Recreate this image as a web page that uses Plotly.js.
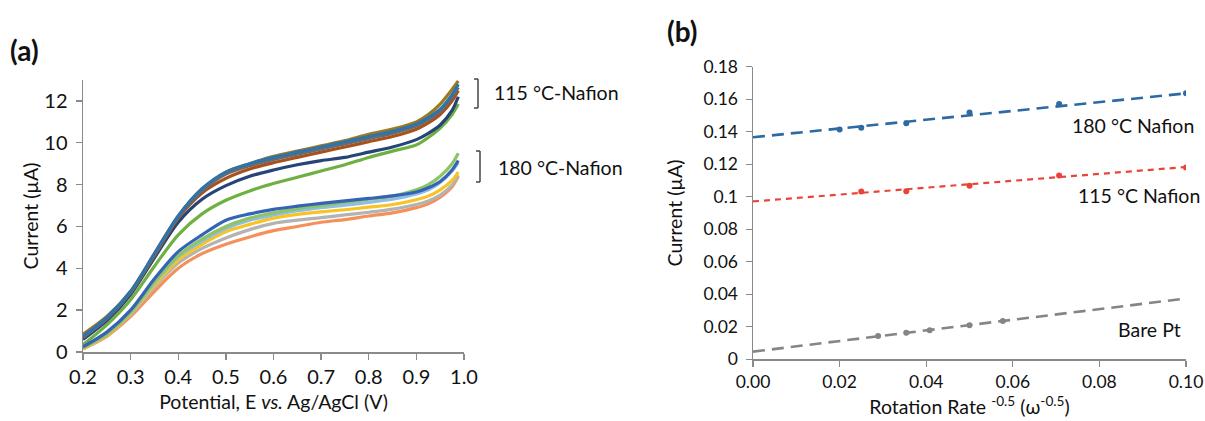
<!DOCTYPE html>
<html><head><meta charset="utf-8">
<script src="https://cdn.plot.ly/plotly-3.0.1.min.js"></script>
<style>html,body{margin:0;padding:0;background:#fff}#chart{width:1205px;height:421px}</style>
</head><body><div id="chart"></div>
<script>
// ---- Panel (a): linear sweep voltammograms ----
const potential = [0.2,0.25,0.3,0.35,0.4,0.45,0.5,0.55,0.6,0.65,0.7,0.75,0.8,0.85,0.9,0.925,0.95,0.975,0.988];
// 115 °C-Nafion group
const n115_gold  = [0.85,1.7,2.9,4.7,6.5,7.8,8.6,9.0,9.35,9.6,9.85,10.1,10.4,10.65,11.0,11.35,11.85,12.55,12.95];
const n115_blue  = [0.75,1.65,2.9,4.7,6.5,7.8,8.6,9.0,9.3,9.55,9.8,10.05,10.3,10.55,10.9,11.2,11.6,12.3,12.8];
const n115_gray  = [0.7,1.6,2.85,4.65,6.45,7.7,8.5,8.9,9.2,9.45,9.7,9.95,10.2,10.45,10.8,11.1,11.5,12.2,12.65];
const n115_brown = [0.7,1.6,2.85,4.6,6.4,7.6,8.3,8.75,9.05,9.3,9.55,9.8,10.05,10.3,10.65,10.95,11.35,12.0,12.5];
const n115_navy  = [0.6,1.5,2.75,4.5,6.2,7.3,7.95,8.4,8.7,8.95,9.15,9.3,9.55,9.8,10.15,10.45,10.85,11.55,12.2];
const n115_green = [0.35,1.3,2.5,4.1,5.6,6.6,7.25,7.7,8.05,8.35,8.65,8.95,9.3,9.6,9.9,10.25,10.7,11.35,11.85];
// 180 °C-Nafion group
const n180_green  = [0.2,0.85,1.9,3.35,4.6,5.4,6.0,6.4,6.65,6.85,7.0,7.15,7.3,7.45,7.75,8.0,8.4,9.0,9.5];
const n180_blue   = [0.25,0.95,2.0,3.5,4.8,5.6,6.3,6.6,6.82,6.97,7.1,7.22,7.34,7.46,7.65,7.85,8.15,8.7,9.15];
const n180_lblue  = [0.2,0.85,1.9,3.3,4.55,5.3,5.9,6.3,6.55,6.75,6.9,7.02,7.15,7.3,7.55,7.75,8.1,8.65,9.05];
const n180_yellow = [0.15,0.8,1.85,3.2,4.4,5.15,5.75,6.1,6.4,6.58,6.7,6.8,6.92,7.05,7.28,7.45,7.75,8.2,8.6];
const n180_gray   = [0.15,0.8,1.8,3.1,4.25,4.95,5.45,5.85,6.15,6.3,6.42,6.55,6.68,6.83,7.05,7.22,7.5,7.98,8.45];
const n180_orange = [0.15,0.75,1.7,2.9,4.0,4.7,5.15,5.5,5.8,6.0,6.2,6.33,6.5,6.65,6.9,7.08,7.4,7.9,8.4];

const curvesA = [
  {y:n115_green, c:'#6fb042'}, {y:n115_navy, c:'#264478'}, {y:n115_brown, c:'#a9501c'},
  {y:n115_gray, c:'#6b6b6b'}, {y:n115_gold, c:'#9c7a1e'}, {y:n115_blue, c:'#2e73ad'},
  {y:n180_orange, c:'#f4905a'}, {y:n180_gray, c:'#b3b3b3'}, {y:n180_yellow, c:'#f7c325'},
  {y:n180_lblue, c:'#8fbde6'}, {y:n180_green, c:'#8dc466'}, {y:n180_blue, c:'#3563b5'}
];
const xTicksA = [0.2,0.3,0.4,0.5,0.6,0.7,0.8,0.9,1.0];
const xTickTextA = ['0.2','0.3','0.4','0.5','0.6','0.7','0.8','0.9','1.0'];
const yTicksA = [0,2,4,6,8,10,12];

// ---- Panel (b): current vs rotation rate^-0.5 ----
const rate180 = [0.02,0.025,0.0354,0.05,0.0707,0.1];
const cur180  = [0.1413,0.1425,0.1452,0.1519,0.157,0.1636];
const rate115 = [0.025,0.0354,0.05,0.0707,0.1];
const cur115  = [0.1033,0.1034,0.1067,0.1131,0.118];
const rateBare = [0.0289,0.0354,0.0408,0.05,0.0577];
const curBare  = [0.0143,0.0163,0.0178,0.021,0.0235];
const trendX = [0,0.1];
const trend180 = [0.1366,0.1636];
const trend115 = [0.0971,0.1183];
const trendBare = [0.0047,0.0374];
const xTicksB = [0,0.02,0.04,0.06,0.08,0.1];
const xTickTextB = ['0.00','0.02','0.04','0.06','0.08','0.10'];
const yTicksB = [0,0.02,0.04,0.06,0.08,0.1,0.12,0.14,0.16,0.18];
const yTickTextB = ['0','0.02','0.04','0.06','0.08','0.1','0.12','0.14','0.16','0.18'];

const W = 1205, H = 421;
const px = x => x / W;
const py = y => 1 - y / H;

const traces = [];
curvesA.forEach(cv => traces.push({
  x: potential, y: cv.y, xaxis:'x', yaxis:'y', type:'scatter', mode:'lines',
  line:{color:cv.c, width:3.2, shape:'spline', smoothing:0.8}, hoverinfo:'skip', showlegend:false
}));
const blue = '#2d6aa3', red = '#ea4439', gray = '#858585';
traces.push({x:trendX, y:trend180, xaxis:'x2', yaxis:'y2', mode:'lines', line:{color:blue, width:2.6, dash:'12px,7px'}, showlegend:false});
traces.push({x:trendX, y:trend115, xaxis:'x2', yaxis:'y2', mode:'lines', line:{color:red, width:2.2, dash:'6px,5px'}, showlegend:false});
traces.push({x:trendX, y:trendBare, xaxis:'x2', yaxis:'y2', mode:'lines', line:{color:gray, width:2.6, dash:'12px,7px'}, showlegend:false});
traces.push({x:rate180, y:cur180, xaxis:'x2', yaxis:'y2', mode:'markers', marker:{color:blue, size:6}, showlegend:false});
traces.push({x:rate115, y:cur115, xaxis:'x2', yaxis:'y2', mode:'markers', marker:{color:red, size:6}, showlegend:false});
traces.push({x:rateBare, y:curBare, xaxis:'x2', yaxis:'y2', mode:'markers', marker:{color:gray, size:6}, showlegend:false});

const font = 'Lato, "Open Sans", sans-serif';
const axisBase = {showline:true, linecolor:'#8a8a8a', linewidth:1.5, ticks:'outside', ticklen:6,
  tickcolor:'#8a8a8a', tickwidth:1.3, showgrid:false, zeroline:false, fixedrange:true};
const tf = {size:19.5, color:'#111'};

const layout = {
  width: W, height: H, margin:{l:0,r:0,t:0,b:0}, paper_bgcolor:'#fff', plot_bgcolor:'#fff',
  font:{family:font, color:'#111', size:19}, showlegend:false,
  xaxis: Object.assign({}, axisBase, {domain:[px(83), px(464)], range:[0.2,1.0], anchor:'y',
    tickvals:xTicksA, ticktext:xTickTextA, tickfont:{size:20, color:'#111'},
    title:{text:'Potential, E <i>vs.</i> Ag/AgCl (V)', font:tf, standoff:9}}),
  yaxis: Object.assign({}, axisBase, {domain:[py(352), py(80)], range:[0,13], anchor:'x',
    tickvals:yTicksA, tickfont:{size:20, color:'#111'}, ticklabelstandoff:4,
    title:{text:'Current (µA)', font:tf, standoff:0}}),
  xaxis2: Object.assign({}, axisBase, {domain:[px(753), px(1186)], range:[0,0.1], anchor:'y2',
    tickvals:xTicksB, ticktext:xTickTextB, tickfont:{size:17.5, color:'#111'},
    title:{text:'Rotation Rate <sup>-0.5</sup> (ω<sup>-0.5</sup>)', font:tf, standoff:9}}),
  yaxis2: Object.assign({}, axisBase, {domain:[py(359.3), py(66.7)], range:[0,0.18], anchor:'x2',
    tickvals:yTicksB, ticktext:yTickTextB, tickfont:{size:17.5, color:'#111'}, ticklabelstandoff:4,
    title:{text:'Current (µA)', font:tf, standoff:15}}),
  annotations: [
    {text:'<b>(a)</b>', x:px(8), y:py(50), xref:'paper', yref:'paper', xanchor:'left', yanchor:'middle', showarrow:false, font:{size:28}},
    {text:'<b>(b)</b>', x:px(665), y:py(31), xref:'paper', yref:'paper', xanchor:'left', yanchor:'middle', showarrow:false, font:{size:28}},
    {text:'115 °C-Nafion', x:px(492), y:py(93), xref:'paper', yref:'paper', xanchor:'left', yanchor:'middle', showarrow:false, font:{size:19.5}},
    {text:'180 °C-Nafion', x:px(496), y:py(167), xref:'paper', yref:'paper', xanchor:'left', yanchor:'middle', showarrow:false, font:{size:19.5}},
    {text:'180 °C Nafion', x:px(1196), y:py(125), xref:'paper', yref:'paper', xanchor:'right', yanchor:'middle', showarrow:false, font:{size:19.5}},
    {text:'115 °C Nafion', x:px(1202), y:py(195), xref:'paper', yref:'paper', xanchor:'right', yanchor:'middle', showarrow:false, font:{size:19.5}},
    {text:'Bare Pt', x:px(1183), y:py(329), xref:'paper', yref:'paper', xanchor:'right', yanchor:'middle', showarrow:false, font:{size:19.5}}
  ]
};
// brackets drawn as paper-space line shapes
function bracket(x, y0, y1){
  return [
    {type:'line', xref:'paper', yref:'paper', x0:px(x), x1:px(x), y0:py(y0), y1:py(y1), line:{color:'#444', width:1.5}},
    {type:'line', xref:'paper', yref:'paper', x0:px(x-4), x1:px(x), y0:py(y0), y1:py(y0), line:{color:'#444', width:1.5}},
    {type:'line', xref:'paper', yref:'paper', x0:px(x-4), x1:px(x), y0:py(y1), y1:py(y1), line:{color:'#444', width:1.5}}
  ];
}
layout.shapes = [].concat(bracket(478, 79, 108), bracket(480, 151, 182));

Plotly.newPlot('chart', traces, layout, {displayModeBar:false, staticPlot:true});
</script></body></html>
